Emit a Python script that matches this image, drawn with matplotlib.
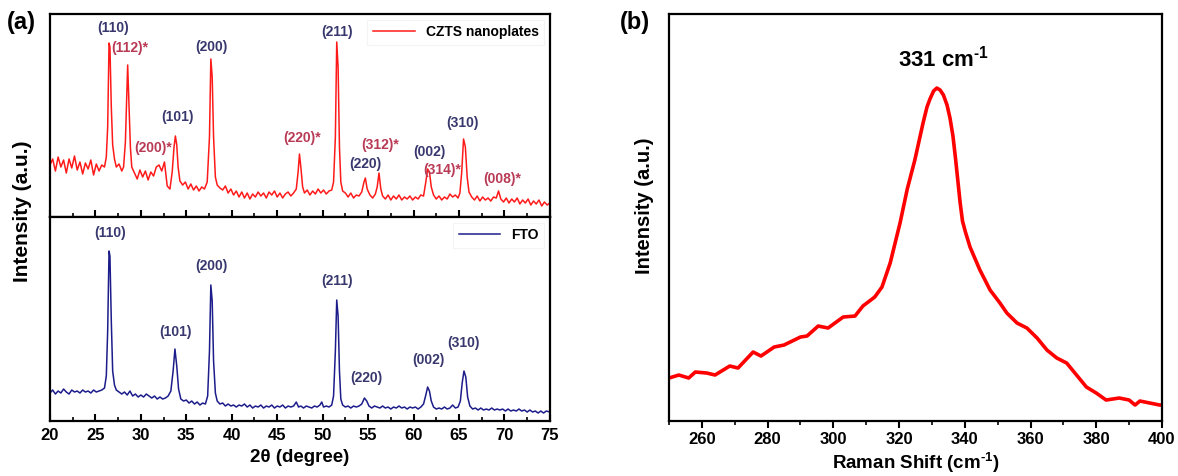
#!/usr/bin/env python3
import matplotlib
matplotlib.use("Agg")
import matplotlib.pyplot as plt

plt.rcParams["font.family"] = "Liberation Sans"
plt.rcParams["font.weight"] = "bold"
plt.rcParams["mathtext.fontset"] = "custom"
plt.rcParams["mathtext.rm"] = "Liberation Sans:bold"
plt.rcParams["mathtext.it"] = "Liberation Sans:bold"
plt.rcParams["mathtext.bf"] = "Liberation Sans:bold"

# --- XRD, CZTS nanoplates on FTO (upper trace) ---
czts_2theta = [
    20.0, 20.3, 20.6, 20.9, 21.2, 21.5, 21.8, 22.1, 22.4, 22.7, 23.0, 23.3, 23.6, 23.9,
    24.2, 24.5, 24.8, 25.1, 25.4, 25.7, 26.0, 26.2, 26.35, 26.5, 26.6, 26.75, 26.9, 27.1,
    27.3, 27.6, 27.9, 28.1, 28.3, 28.45, 28.55, 28.7, 28.85, 29.0, 29.3, 29.6, 29.9, 30.2,
    30.5, 30.8, 31.1, 31.4, 31.7, 32.0, 32.3, 32.6, 32.9, 33.2, 33.45, 33.65, 33.8, 33.95,
    34.1, 34.3, 34.6, 34.9, 35.2, 35.5, 35.8, 36.1, 36.4, 36.7, 37.0, 37.3, 37.55, 37.7,
    37.85, 38.0, 38.2, 38.4, 38.7, 39.0, 39.3, 39.6, 39.9, 40.2, 40.5, 40.8, 41.1, 41.4,
    41.7, 42.0, 42.3, 42.6, 42.9, 43.2, 43.5, 43.8, 44.1, 44.4, 44.7, 45.0, 45.3, 45.6,
    45.9, 46.2, 46.5, 46.8, 47.1, 47.3, 47.45, 47.6, 47.8, 48.0, 48.3, 48.6, 48.9, 49.2,
    49.5, 49.8, 50.1, 50.4, 50.7, 51.0, 51.2, 51.4, 51.55, 51.7, 51.85, 52.0, 52.2, 52.5,
    52.8, 53.1, 53.4, 53.7, 54.0, 54.3, 54.55, 54.7, 54.9, 55.2, 55.5, 55.8, 56.0, 56.2,
    56.4, 56.6, 56.9, 57.2, 57.5, 57.8, 58.1, 58.4, 58.7, 59.0, 59.3, 59.6, 59.9, 60.2,
    60.5, 60.8, 61.1, 61.35, 61.55, 61.75, 61.95, 62.2, 62.5, 62.8, 63.1, 63.4, 63.7, 64.0,
    64.3, 64.6, 64.9, 65.1, 65.3, 65.5, 65.7, 65.9, 66.1, 66.4, 66.7, 67.0, 67.3, 67.6,
    67.9, 68.2, 68.5, 68.8, 69.1, 69.35, 69.6, 69.9, 70.2, 70.5, 70.8, 71.1, 71.4, 71.7,
    72.0, 72.3, 72.6, 72.9, 73.2, 73.5, 73.8, 74.1, 74.4, 74.7, 75.0,
]
czts_int = [
    52, 58, 46, 60, 50, 57, 44, 58, 49, 61, 47, 55, 43, 54, 48, 57, 42, 53, 46, 52,
    50, 60, 90, 174, 170, 110, 72, 58, 50, 53, 46, 50, 75, 120, 152, 110, 70, 50,
    44, 38, 47, 40, 46, 37, 45, 41, 50, 52, 46, 55, 31, 28, 45, 70, 81, 72, 50, 36,
    32, 35, 28, 33, 27, 31, 26, 30, 28, 35, 80, 158, 140, 80, 40, 32, 29, 27, 31, 24,
    28, 22, 26, 20, 25, 19, 24, 18, 23, 20, 25, 21, 24, 19, 25, 22, 26, 20, 24, 19,
    23, 25, 21, 24, 28, 45, 63, 50, 30, 24, 27, 22, 26, 23, 28, 24, 27, 23, 26, 27,
    35, 80, 175, 150, 70, 35, 26, 24, 20, 24, 19, 22, 21, 25, 35, 39, 28, 22, 19, 23,
    30, 44, 28, 21, 18, 22, 17, 21, 18, 22, 17, 20, 18, 21, 17, 20, 18, 22, 21, 35,
    48, 45, 30, 22, 18, 21, 17, 20, 18, 23, 20, 22, 19, 24, 45, 78, 70, 40, 25, 20,
    17, 21, 16, 20, 17, 19, 16, 20, 19, 26, 18, 15, 19, 14, 18, 15, 19, 13, 17, 14,
    18, 12, 16, 13, 17, 11, 15, 12, 14,
]

# --- XRD, bare FTO substrate (lower trace) ---
fto_2theta = [
    20.0, 20.3, 20.6, 20.9, 21.2, 21.5, 21.8, 22.1, 22.4, 22.7, 23.0, 23.3, 23.6, 23.9,
    24.2, 24.5, 24.8, 25.1, 25.4, 25.7, 26.0, 26.2, 26.35, 26.5, 26.6, 26.75, 26.9, 27.1,
    27.3, 27.6, 27.9, 28.2, 28.5, 28.8, 29.1, 29.4, 29.7, 30.0, 30.3, 30.6, 30.9, 31.2,
    31.5, 31.8, 32.1, 32.4, 32.7, 33.0, 33.3, 33.55, 33.75, 33.95, 34.15, 34.4, 34.7, 35.0,
    35.3, 35.6, 35.9, 36.2, 36.5, 36.8, 37.1, 37.35, 37.55, 37.7, 37.85, 38.0, 38.2, 38.4,
    38.7, 39.0, 39.3, 39.6, 39.9, 40.2, 40.5, 40.8, 41.1, 41.4, 41.7, 42.0, 42.3, 42.6,
    42.9, 43.2, 43.5, 43.8, 44.1, 44.4, 44.7, 45.0, 45.3, 45.6, 45.9, 46.2, 46.5, 46.8,
    47.1, 47.35, 47.6, 47.9, 48.2, 48.5, 48.8, 49.1, 49.4, 49.7, 49.9, 50.1, 50.4, 50.7,
    51.0, 51.2, 51.4, 51.55, 51.7, 51.85, 52.0, 52.2, 52.5, 52.8, 53.1, 53.4, 53.7, 54.0,
    54.3, 54.6, 54.85, 55.1, 55.4, 55.7, 56.0, 56.3, 56.6, 56.9, 57.2, 57.5, 57.8, 58.1,
    58.4, 58.7, 59.0, 59.3, 59.6, 59.9, 60.2, 60.5, 60.8, 61.1, 61.35, 61.55, 61.75, 61.95,
    62.2, 62.5, 62.8, 63.1, 63.4, 63.7, 64.0, 64.3, 64.6, 64.9, 65.15, 65.35, 65.55, 65.75,
    65.95, 66.2, 66.5, 66.8, 67.1, 67.4, 67.7, 68.0, 68.3, 68.6, 68.9, 69.2, 69.5, 69.8,
    70.1, 70.4, 70.7, 71.0, 71.3, 71.6, 71.9, 72.2, 72.5, 72.8, 73.1, 73.4, 73.7, 74.0,
    74.3, 74.6, 75.0,
]
fto_int = [
    28, 31, 27, 30, 28, 32, 29, 27, 31, 29, 30, 28, 31, 29, 30, 28, 31, 29, 30, 31,
    33, 45, 90, 170, 165, 100, 50, 36, 31, 29, 27, 29, 26, 30, 25, 27, 24, 26, 24, 27,
    25, 23, 25, 22, 24, 22, 23, 25, 30, 50, 72, 55, 32, 22, 20, 21, 18, 20, 17, 19,
    16, 18, 17, 25, 70, 136, 120, 60, 28, 20, 17, 18, 15, 17, 15, 16, 14, 16, 15, 17,
    14, 16, 13, 15, 14, 16, 13, 15, 14, 16, 13, 15, 14, 16, 13, 15, 14, 15, 19, 14,
    15, 13, 15, 14, 13, 15, 14, 16, 19, 14, 15, 14, 16, 25, 70, 121, 105, 50, 22, 16,
    14, 15, 13, 15, 14, 15, 17, 23, 20, 15, 13, 15, 14, 13, 15, 13, 14, 12, 14, 13,
    15, 13, 14, 12, 14, 13, 14, 12, 14, 17, 26, 34, 30, 20, 14, 12, 13, 12, 14, 12,
    13, 16, 13, 14, 20, 38, 50, 44, 24, 15, 12, 13, 11, 13, 11, 12, 11, 13, 11, 12,
    11, 12, 10, 12, 10, 11, 10, 12, 10, 11, 9, 11, 9, 10, 8, 10, 8, 10, 9,
]

# peak labels: (text, 2theta, intensity, colour key)
czts_labels = [
    ("(110)", 26.9, 189, "fto"), ("(112)*", 28.8, 169, "czts"),
    ("(200)*", 31.3, 69, "czts"), ("(101)", 34.0, 100, "fto"),
    ("(200)", 37.8, 170, "fto"), ("(220)*", 47.7, 79, "czts"),
    ("(211)", 51.6, 185, "fto"), ("(220)", 54.65, 53, "fto"),
    ("(312)*", 56.3, 72, "czts"), ("(002)", 61.7, 65, "fto"),
    ("(314)*", 63.1, 47, "czts"), ("(310)", 65.4, 94, "fto"),
    ("(008)*", 69.7, 38, "czts"),
]
fto_labels = [
    ("(110)", 26.6, 188, "fto"), ("(101)", 33.8, 89, "fto"),
    ("(200)", 37.8, 155, "fto"), ("(211)", 51.6, 140, "fto"),
    ("(220)", 54.8, 43, "fto"), ("(002)", 61.6, 61, "fto"),
    ("(310)", 65.5, 78, "fto"),
]

# --- Raman spectrum ---
raman_shift = [
    250, 253, 256, 258, 261.5, 264, 268.5, 271, 275.6, 278, 282, 285, 290, 292,
    295.4, 298.4, 303, 306.6, 309, 312.6, 314.8, 317.3, 320.3, 322.5, 324.8, 327.3,
    328.5, 329.4, 330.5, 331.5, 332.5, 333.5, 334.6, 335.5, 336.4, 337.2, 337.9, 338.6,
    339.3, 340.2, 341.6, 344.6, 347.7, 350.7, 352.8, 355.9, 358.9, 362, 365, 368, 371,
    374, 377, 380, 383, 387, 390, 391.8, 393.3, 396.3, 399.3, 400,
]
raman_int = [
    43, 46, 43, 49, 48, 46, 55, 53, 69, 65, 74, 76, 84, 85,
    95, 93, 104, 105, 115, 124, 134, 158, 198, 232, 261, 298,
    314, 322, 330, 333, 331, 326, 316, 303, 285, 262, 240, 218,
    200, 189, 174, 151, 131, 118, 108, 98, 93, 83, 71, 63, 58,
    46, 34, 28, 21, 23, 21, 16, 20, 18, 16, 16,
]

colors = {"czts": "#b83a55", "fto": "#38386e"}

fig = plt.figure(figsize=(11.78, 4.76), dpi=100)
ax_top = fig.add_axes([0.0424, 0.5441, 0.4244, 0.4265])
ax_bot = fig.add_axes([0.0424, 0.1155, 0.4244, 0.4286])
ax_r = fig.add_axes([0.5679, 0.1155, 0.4185, 0.855])

ax_top.plot(czts_2theta, czts_int, color="#ff1a1a", lw=1.1, label="CZTS nanoplates")
ax_bot.plot(fto_2theta, fto_int, color="#1c1c8a", lw=1.1, label="FTO")

for ax, labels in ((ax_top, czts_labels), (ax_bot, fto_labels)):
    for txt, x, y, key in labels:
        ax.text(x, y, txt, color=colors[key], fontsize=10, ha="center", va="center",
                fontweight="bold")

for ax in (ax_top, ax_bot):
    ax.set_xlim(20, 75)
    ax.set_xticks(range(20, 76, 5))
    ax.set_xticks([20 + 2.5 * i for i in range(23)], minor=True)
    ax.set_yticks([])
    ax.tick_params(axis="x", which="major", direction="in", length=5, width=1.5,
                   labelsize=12, pad=5)
    ax.tick_params(axis="x", which="minor", direction="in", length=3, width=1.2)
    for s in ax.spines.values():
        s.set_linewidth(1.6)
    leg = ax.legend(loc="upper right", handlelength=3.0, fontsize=10,
                    frameon=True, fancybox=False, borderaxespad=0.4)
    leg.get_frame().set_edgecolor("#f2f2f2")
    leg.get_frame().set_linewidth(0.8)

ax_top.set_ylim(0, 203)
ax_bot.set_ylim(0, 204)
ax_top.tick_params(axis="x", labelbottom=False)
ax_bot.set_xlabel("2θ (degree)", fontsize=13.5, fontweight="bold", labelpad=4)
fig.text(0.019, 0.557, "Intensity (a.u.)", rotation=90, fontsize=15,
         fontweight="bold", ha="center", va="center")
fig.text(0.006, 0.952, "(a)", fontsize=17, fontweight="bold", ha="left", va="center")

ax_r.plot(raman_shift, raman_int, color="#ff0000", lw=2.6, solid_joinstyle="round")
ax_r.set_xlim(250, 400)
ax_r.set_ylim(0, 407)
ax_r.set_xticks(range(260, 401, 20))
ax_r.set_xticks(range(250, 401, 10), minor=True)
ax_r.set_yticks([])
ax_r.tick_params(axis="x", which="major", direction="out", length=5, width=1.5,
                 labelsize=12, pad=3)
ax_r.tick_params(axis="x", which="minor", direction="out", length=3, width=1.2)
for s in ax_r.spines.values():
    s.set_linewidth(1.6)
ax_r.set_xlabel(r"Raman Shift (cm$^{\text{-1}}$)", fontsize=13.5, fontweight="bold",
                labelpad=3)
ax_r.set_ylabel("Intensity (a.u.)", fontsize=14.5, fontweight="bold", labelpad=10)
ax_r.yaxis.set_label_coords(-0.03, 0.53)
ax_r.text(333.5, 362, r"331 cm$^{\text{-1}}$", fontsize=16, fontweight="bold",
          ha="center", va="center")
fig.text(0.526, 0.952, "(b)", fontsize=17, fontweight="bold", ha="left", va="center")

fig.savefig("out.png", dpi=100)
